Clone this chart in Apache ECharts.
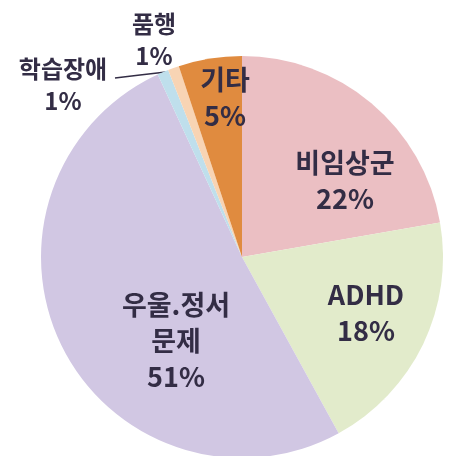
<!DOCTYPE html>
<html>
<head>
<meta charset="utf-8">
<script src="https://cdn.jsdelivr.net/npm/echarts@6/dist/echarts.min.js"></script>
<style>
  html, body { margin: 0; padding: 0; background: #ffffff; }
  #chart { width: 450px; height: 456px; }
</style>
</head>
<body>
<div id="chart"></div>
<script>
// slice order: clockwise from 12 o'clock
var names = ['비임상군', 'ADHD', '우울.정서\n문제', '학습장애', '품행', '기타'];
var shares = [22.3, 19.8, 51.2, 0.9, 0.9, 5.1];   // slice size as drawn
var pctText = ['22%', '18%', '51%', '1%', '1%', '5%'];  // printed labels
var colors = ['#ebbfc3', '#e2ebcb', '#d1c7e3', '#bfdfec', '#f8d4b4', '#e08b3f'];

// where each label block sits (centre), index matches names
var labelPos = [[345, 181], [366, 313], [176, 341], [63, 85], [154, 40], [225, 98]];

var chartDom = document.getElementById('chart');
var myChart = echarts.init(chartDom);

var option = {
  backgroundColor: '#ffffff',
  animation: false,
  series: [{
    type: 'pie',
    center: [242, 257],
    radius: [0, 201],
    startAngle: 90,
    clockwise: true,
    avoidLabelOverlap: false,
    itemStyle: { borderWidth: 0 },
    label: {
      show: true,
      position: 'inside',
      color: '#332d45',
      fontFamily: 'Noto Sans CJK KR',
      fontWeight: 'bold',
      fontSize: 27,
      lineHeight: 36,
      align: 'center',
      formatter: function (p) {
        return names[p.dataIndex] + '\n' + pctText[p.dataIndex];
      }
    },
    labelLayout: function (p) {
      var pos = labelPos[p.dataIndex];
      var res = { x: pos[0], y: pos[1], align: 'center', verticalAlign: 'middle' };
      if (p.dataIndex === 3) {
        res.labelLinePoints = [[166, 72], [140, 75], [115, 78]];
      }
      return res;
    },
    data: names.map(function (n, i) {
      var d = { name: n, value: shares[i], itemStyle: { color: colors[i] } };
      if (i === 3 || i === 4) {
        d.label = { position: 'outside', fontSize: 24, lineHeight: 32 };
        d.labelLine = { show: i === 3, lineStyle: { color: '#332d45', width: 1.5 } };
      }
      return d;
    })
  }]
};

myChart.setOption(option);
</script>
</body>
</html>
